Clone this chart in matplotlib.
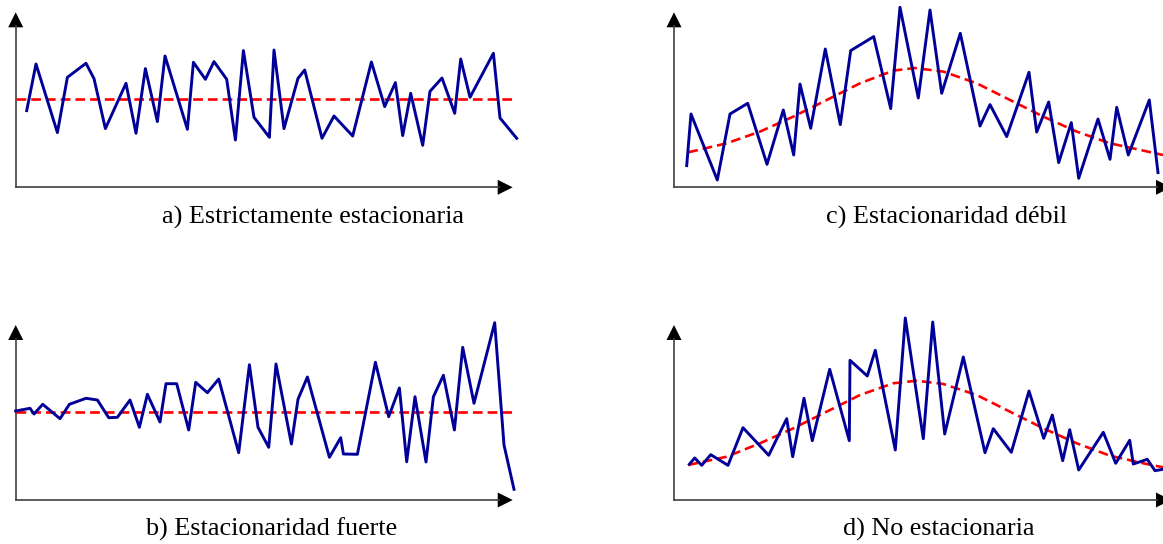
import numpy as np
import matplotlib
matplotlib.use("Agg")
import matplotlib.pyplot as plt

# Values: x = distance from the y-axis, y = height above the x-axis (pixels)
xa = [11, 20.3, 41.7, 51.7, 70.3, 78.3, 89.7, 110.3, 120.3, 129.7, 141.7, 149.3, 171.7, 177.7,
      189.7, 198.3, 211, 219.7, 227.7, 238.3, 253.7, 258.3, 268.3, 282.3, 289, 306.3, 318.3, 337,
      355.7, 369, 379.7, 387, 395, 407, 414.3, 426.3, 439, 445, 454.3, 477.7, 484.3, 501]
ya = [76.7, 123.3, 54.7, 110, 124, 108.7, 58.7, 104, 54, 118.7, 65.7, 131.3, 58, 125,
      108, 125.7, 108, 47.3, 136.7, 70, 50, 137.3, 58.7, 109, 117.3, 49, 71.3, 51.3,
      125.3, 80.7, 104.7, 51.7, 94, 42, 96, 109.3, 74, 128.3, 90, 134, 69.3, 49]
mean_a = 88.3

xb = [0, 14.3, 18.3, 27, 44.3, 53.7, 70.3, 81.7, 93, 101.7, 114.3, 123.7, 131.7, 144.3, 150.3,
      161, 173, 180, 191.7, 203, 223, 233.7, 242.3, 253, 260.3, 275.7, 282.3, 291.7, 313.7,
      325, 327.7, 341.7, 359.7, 373, 383.7, 391, 399.3, 410.3, 417.7, 427.7, 438.7, 447,
      458.3, 479, 488.3, 498.3]
yb = [89, 91.7, 86, 95.7, 81.3, 95.7, 101.7, 100, 82.3, 82.7, 100, 72.7, 105.7, 78, 116.3,
      116.3, 70, 117.7, 107.3, 121, 47.3, 135.3, 72.7, 52.7, 136, 56, 100.7, 123, 42.7,
      62.3, 46, 45.7, 137.7, 83.3, 112, 38.3, 103.3, 38, 103.3, 124.7, 70, 152.7,
      96.7, 177.3, 55, 10.7]
mean_b = 88.3

xc = [12.7, 17, 43.3, 56, 73.7, 93, 109.3, 119.7, 126, 136.7, 151.3, 166.3, 176.7, 199.7,
      216.7, 226, 244.3, 256, 267.7, 286.3, 306, 316, 332.7, 355, 362.7, 374.7, 384.7,
      397.3, 404.7, 424, 436, 442.7, 454.3, 475.3, 484]
yc = [21.7, 73.3, 7.3, 73.3, 84, 23, 77.3, 32.3, 103.3, 59, 138.3, 62.7, 136.7, 150.7,
      78.7, 180, 89.3, 177.3, 94, 154, 61.3, 82.7, 50.7, 115, 55.3, 85.3, 24.7,
      64.7, 9, 68.3, 28, 80, 32.3, 87.3, 14.7]
trend_xc = [14.3, 52.7, 86, 119.3, 152.7, 186, 219.3, 241, 269.3, 302.7, 336, 369.3, 402.7, 436, 469.3, 489]
trend_yc = [35, 44, 55.7, 70.7, 87.3, 104, 116.7, 119.3, 115.7, 104, 87.3, 70.7, 55.7, 44, 36.7, 32.3]

xd = [15.3, 20.7, 27.7, 36.7, 54, 69, 94.7, 112.7, 118.7, 130, 138.3, 155.7, 175.3, 176,
      193.3, 201.3, 221.3, 231.3, 249.3, 258.7, 270.7, 289.3, 311, 319.3, 337.3, 355,
      369.7, 378.3, 388.7, 395.7, 404.7, 429.3, 441.7, 455.7, 459.3, 473.3, 481, 489]
yd = [35.7, 42, 34.7, 45.3, 34.7, 72.3, 44.7, 81.3, 43.3, 101.7, 59.3, 130.7, 59.3, 139.7,
      124, 149.7, 50, 182, 61.3, 178, 66, 143, 47.3, 71.3, 47.7, 109,
      61.7, 85, 39.3, 70.3, 30, 67.7, 36.7, 59.7, 36, 40.7, 29.3, 30.7]
trend_xd = [14.3, 52.7, 86, 119.3, 152.7, 186, 219.3, 242.7, 269.3, 302.7, 336, 369.3, 402.7, 436, 469.3, 489]
trend_yd = [35, 43.3, 56.7, 71.7, 88.3, 105, 116.7, 119.3, 116, 105, 88.3, 71.7, 56.7, 44.3, 36.7, 32.7]

captions = ["a) Estrictamente estacionaria", "b) Estacionaridad fuerte",
            "c) Estacionaridad débil", "d) No estacionaria"]

W, H = 1163, 544
BLUE = "#000099"
RED = "#ff0000"
plt.rcParams["lines.scale_dashes"] = False

fig = plt.figure(figsize=(W / 100, H / 100), dpi=100)


def panel(ox, oy, xs, ys, tx, ty, caption, cx, cy, xlen=497, ylen=175):
    # axes whose data units are pixels, origin at (ox, oy) in image pixels
    aw, ah = 520, 185
    ax = fig.add_axes([ox / W, (H - oy) / H, aw / W, ah / H])
    ax.set_xlim(0, aw)
    ax.set_ylim(0, ah)
    ax.axis("off")
    # axes with arrow heads
    ax.plot([0, xlen - 14], [0, 0], color="#404040", lw=1.2, clip_on=False)
    ax.plot([0, 0], [0, ylen - 14], color="#404040", lw=1.2, clip_on=False)
    ax.fill([xlen - 15, xlen, xlen - 15], [-7.5, 0, 7.5], color="black", lw=0, clip_on=False)
    ax.fill([-7.5, 0, 7.5], [ylen - 15, ylen, ylen - 15], color="black", lw=0, clip_on=False)
    # trend / mean
    ax.plot(tx, ty, color=RED, lw=1.9, dashes=(7, 3.6), clip_on=False, zorder=3)
    ax.plot(xs, ys, color=BLUE, lw=2.1, clip_on=False, zorder=4)
    fig.text(cx / W, 1 - cy / H, caption, ha="center", va="baseline",
             family="Liberation Serif", fontsize=18.8)


panel(15.7, 187.3, xa, ya, [0, 498], [mean_a, mean_a], captions[0], 313, 224)
panel(15.7, 500, xb, yb, [0, 498], [mean_b, mean_b], captions[1], 272, 536)
panel(674, 187.3, xc, yc, trend_xc, trend_yc, captions[2], 947, 224)
panel(674, 500, xd, yd, trend_xd, trend_yd, captions[3], 939, 536)

fig.savefig("out.png", dpi=100)
